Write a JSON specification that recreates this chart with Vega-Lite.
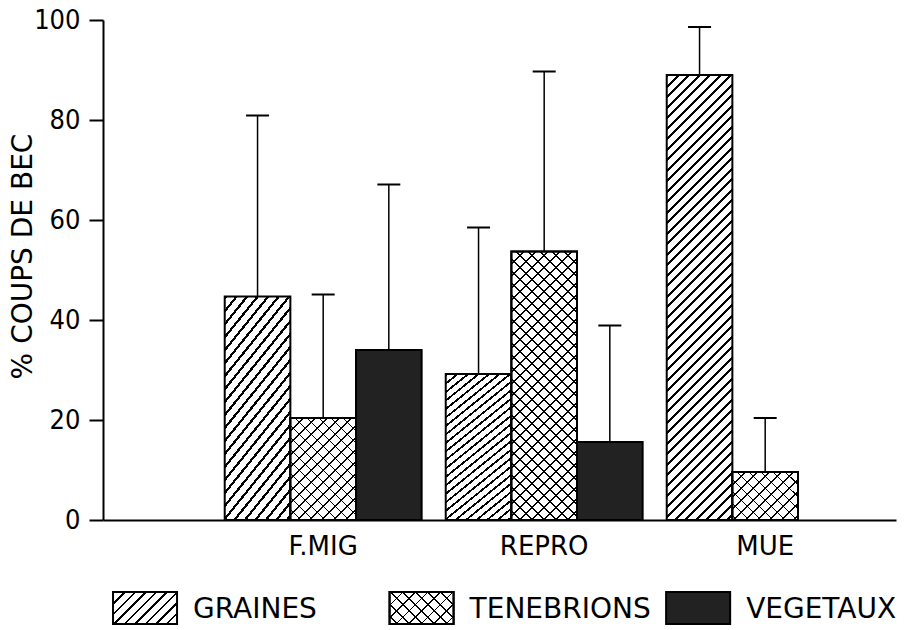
{
  "$schema": "https://vega.github.io/schema/vega-lite/v6.json",
  "width": 793,
  "height": 500,
  "autosize": {"type": "none"},
  "padding": {"left": 103, "top": 20, "right": 8, "bottom": 110},
  "background": "white",
  "config": {
    "font": "DejaVu Sans",
    "view": {"stroke": null},
    "axisX": {"domainColor": "black", "domainWidth": 2, "ticks": false, "labelFont": "DejaVu Sans", "labelFontSize": 26, "labelColor": "black", "labelPadding": 13, "labelAngle": 0, "grid": false},
    "axisY": {"titleFont": "DejaVu Sans", "titleFontSize": 28, "titleFontWeight": "normal", "titleColor": "black", "titleX": -66, "titleY": 236, "domainColor": "black", "domainWidth": 2, "tickColor": "black", "tickWidth": 2, "tickSize": 14, "labelFont": "'DejaVu Sans Condensed', 'Liberation Sans', sans-serif", "labelFontSize": 27, "labelColor": "black", "labelPadding": 9, "labelFlush": false, "labelOverlap": false, "grid": false}
  },
  "data": {
    "values": [
      {"phase": "F.MIG", "type": "GRAINES", "value": 44.7, "hi": 80.9},
      {"phase": "F.MIG", "type": "TENEBRIONS", "value": 20.4, "hi": 45.1},
      {"phase": "F.MIG", "type": "VEGETAUX", "value": 34.0, "hi": 67.1},
      {"phase": "REPRO", "type": "GRAINES", "value": 29.2, "hi": 58.5},
      {"phase": "REPRO", "type": "TENEBRIONS", "value": 53.7, "hi": 89.7},
      {"phase": "REPRO", "type": "VEGETAUX", "value": 15.6, "hi": 38.9},
      {"phase": "MUE", "type": "GRAINES", "value": 89.0, "hi": 98.6},
      {"phase": "MUE", "type": "TENEBRIONS", "value": 9.6, "hi": 20.4}
    ]
  },
  "resolve": {"scale": {"x": "independent"}},
  "layer": [
    {
      "encoding": {
        "x": {
          "field": "phase", "type": "nominal", "sort": ["F.MIG", "REPRO", "MUE"],
          "scale": {"paddingInner": 0.109, "paddingOuter": 0.3486, "align": 0.79},
          "axis": {"title": null}
        },
        "xOffset": {"field": "type", "type": "nominal", "scale": {"domain": ["GRAINES", "TENEBRIONS", "VEGETAUX"], "paddingInner": 0, "paddingOuter": 0}},
        "y": {
          "field": "value", "type": "quantitative", "title": "% COUPS DE BEC",
          "scale": {"domain": [0, 100], "nice": false},
          "axis": {"title": "% COUPS DE BEC", "values": [0, 20, 40, 60, 80, 100]}
        }
      },
      "layer": [
        {"mark": {"type": "rule", "stroke": "black", "strokeWidth": 1.5}, "encoding": {"y2": {"field": "hi"}}},
        {"mark": {"type": "tick", "color": "black", "size": 23, "thickness": 2, "opacity": 1}, "encoding": {"y": {"field": "hi", "type": "quantitative", "title": "% COUPS DE BEC"}}},
        {
          "transform": [{"filter": "datum.type === 'GRAINES' && datum.phase !== 'MUE'"}],
          "mark": {"type": "bar", "stroke": "black", "strokeWidth": 2,
            "fill": {"gradient": "linear", "x1": 0, "y1": 0, "x2": 0.4657, "y2": 1.283, "stops": [
              {"offset":0,"color":"#000"},{"offset":0.011,"color":"#000"},{"offset":0.011,"color":"#fff"},{"offset":0.04,"color":"#fff"},
              {"offset":0.04,"color":"#000"},{"offset":0.051,"color":"#000"},{"offset":0.051,"color":"#fff"},{"offset":0.08,"color":"#fff"},
              {"offset":0.08,"color":"#000"},{"offset":0.091,"color":"#000"},{"offset":0.091,"color":"#fff"},{"offset":0.12,"color":"#fff"},
              {"offset":0.12,"color":"#000"},{"offset":0.131,"color":"#000"},{"offset":0.131,"color":"#fff"},{"offset":0.16,"color":"#fff"},
              {"offset":0.16,"color":"#000"},{"offset":0.171,"color":"#000"},{"offset":0.171,"color":"#fff"},{"offset":0.2,"color":"#fff"},
              {"offset":0.2,"color":"#000"},{"offset":0.211,"color":"#000"},{"offset":0.211,"color":"#fff"},{"offset":0.24,"color":"#fff"},
              {"offset":0.24,"color":"#000"},{"offset":0.251,"color":"#000"},{"offset":0.251,"color":"#fff"},{"offset":0.28,"color":"#fff"},
              {"offset":0.28,"color":"#000"},{"offset":0.291,"color":"#000"},{"offset":0.291,"color":"#fff"},{"offset":0.32,"color":"#fff"},
              {"offset":0.32,"color":"#000"},{"offset":0.331,"color":"#000"},{"offset":0.331,"color":"#fff"},{"offset":0.36,"color":"#fff"},
              {"offset":0.36,"color":"#000"},{"offset":0.371,"color":"#000"},{"offset":0.371,"color":"#fff"},{"offset":0.4,"color":"#fff"},
              {"offset":0.4,"color":"#000"},{"offset":0.411,"color":"#000"},{"offset":0.411,"color":"#fff"},{"offset":0.44,"color":"#fff"},
              {"offset":0.44,"color":"#000"},{"offset":0.451,"color":"#000"},{"offset":0.451,"color":"#fff"},{"offset":0.48,"color":"#fff"},
              {"offset":0.48,"color":"#000"},{"offset":0.491,"color":"#000"},{"offset":0.491,"color":"#fff"},{"offset":0.52,"color":"#fff"},
              {"offset":0.52,"color":"#000"},{"offset":0.531,"color":"#000"},{"offset":0.531,"color":"#fff"},{"offset":0.56,"color":"#fff"},
              {"offset":0.56,"color":"#000"},{"offset":0.571,"color":"#000"},{"offset":0.571,"color":"#fff"},{"offset":0.6,"color":"#fff"},
              {"offset":0.6,"color":"#000"},{"offset":0.611,"color":"#000"},{"offset":0.611,"color":"#fff"},{"offset":0.64,"color":"#fff"},
              {"offset":0.64,"color":"#000"},{"offset":0.651,"color":"#000"},{"offset":0.651,"color":"#fff"},{"offset":0.68,"color":"#fff"},
              {"offset":0.68,"color":"#000"},{"offset":0.691,"color":"#000"},{"offset":0.691,"color":"#fff"},{"offset":0.72,"color":"#fff"},
              {"offset":0.72,"color":"#000"},{"offset":0.731,"color":"#000"},{"offset":0.731,"color":"#fff"},{"offset":0.76,"color":"#fff"},
              {"offset":0.76,"color":"#000"},{"offset":0.771,"color":"#000"},{"offset":0.771,"color":"#fff"},{"offset":0.8,"color":"#fff"},
              {"offset":0.8,"color":"#000"},{"offset":0.811,"color":"#000"},{"offset":0.811,"color":"#fff"},{"offset":0.84,"color":"#fff"},
              {"offset":0.84,"color":"#000"},{"offset":0.851,"color":"#000"},{"offset":0.851,"color":"#fff"},{"offset":0.88,"color":"#fff"},
              {"offset":0.88,"color":"#000"},{"offset":0.891,"color":"#000"},{"offset":0.891,"color":"#fff"},{"offset":0.92,"color":"#fff"},
              {"offset":0.92,"color":"#000"},{"offset":0.931,"color":"#000"},{"offset":0.931,"color":"#fff"},{"offset":0.96,"color":"#fff"},
              {"offset":0.96,"color":"#000"},{"offset":0.971,"color":"#000"},{"offset":0.971,"color":"#fff"},{"offset":1,"color":"#fff"}
            ]}
          },
          "encoding": {}
        },
        {
          "transform": [{"filter": "datum.type === 'GRAINES' && datum.phase === 'MUE'"}],
          "mark": {"type": "bar", "stroke": "black", "strokeWidth": 2,
            "fill": {"gradient": "linear", "x1": 0, "y1": 0, "x2": 0.1702, "y2": 1.1547, "stops": [
              {"offset":0,"color":"#000"},{"offset":0.0055,"color":"#000"},{"offset":0.0055,"color":"#fff"},{"offset":0.02,"color":"#fff"},
              {"offset":0.02,"color":"#000"},{"offset":0.0255,"color":"#000"},{"offset":0.0255,"color":"#fff"},{"offset":0.04,"color":"#fff"},
              {"offset":0.04,"color":"#000"},{"offset":0.0455,"color":"#000"},{"offset":0.0455,"color":"#fff"},{"offset":0.06,"color":"#fff"},
              {"offset":0.06,"color":"#000"},{"offset":0.0655,"color":"#000"},{"offset":0.0655,"color":"#fff"},{"offset":0.08,"color":"#fff"},
              {"offset":0.08,"color":"#000"},{"offset":0.0855,"color":"#000"},{"offset":0.0855,"color":"#fff"},{"offset":0.1,"color":"#fff"},
              {"offset":0.1,"color":"#000"},{"offset":0.1055,"color":"#000"},{"offset":0.1055,"color":"#fff"},{"offset":0.12,"color":"#fff"},
              {"offset":0.12,"color":"#000"},{"offset":0.1255,"color":"#000"},{"offset":0.1255,"color":"#fff"},{"offset":0.14,"color":"#fff"},
              {"offset":0.14,"color":"#000"},{"offset":0.1455,"color":"#000"},{"offset":0.1455,"color":"#fff"},{"offset":0.16,"color":"#fff"},
              {"offset":0.16,"color":"#000"},{"offset":0.1655,"color":"#000"},{"offset":0.1655,"color":"#fff"},{"offset":0.18,"color":"#fff"},
              {"offset":0.18,"color":"#000"},{"offset":0.1855,"color":"#000"},{"offset":0.1855,"color":"#fff"},{"offset":0.2,"color":"#fff"},
              {"offset":0.2,"color":"#000"},{"offset":0.2055,"color":"#000"},{"offset":0.2055,"color":"#fff"},{"offset":0.22,"color":"#fff"},
              {"offset":0.22,"color":"#000"},{"offset":0.2255,"color":"#000"},{"offset":0.2255,"color":"#fff"},{"offset":0.24,"color":"#fff"},
              {"offset":0.24,"color":"#000"},{"offset":0.2455,"color":"#000"},{"offset":0.2455,"color":"#fff"},{"offset":0.26,"color":"#fff"},
              {"offset":0.26,"color":"#000"},{"offset":0.2655,"color":"#000"},{"offset":0.2655,"color":"#fff"},{"offset":0.28,"color":"#fff"},
              {"offset":0.28,"color":"#000"},{"offset":0.2855,"color":"#000"},{"offset":0.2855,"color":"#fff"},{"offset":0.3,"color":"#fff"},
              {"offset":0.3,"color":"#000"},{"offset":0.3055,"color":"#000"},{"offset":0.3055,"color":"#fff"},{"offset":0.32,"color":"#fff"},
              {"offset":0.32,"color":"#000"},{"offset":0.3255,"color":"#000"},{"offset":0.3255,"color":"#fff"},{"offset":0.34,"color":"#fff"},
              {"offset":0.34,"color":"#000"},{"offset":0.3455,"color":"#000"},{"offset":0.3455,"color":"#fff"},{"offset":0.36,"color":"#fff"},
              {"offset":0.36,"color":"#000"},{"offset":0.3655,"color":"#000"},{"offset":0.3655,"color":"#fff"},{"offset":0.38,"color":"#fff"},
              {"offset":0.38,"color":"#000"},{"offset":0.3855,"color":"#000"},{"offset":0.3855,"color":"#fff"},{"offset":0.4,"color":"#fff"},
              {"offset":0.4,"color":"#000"},{"offset":0.4055,"color":"#000"},{"offset":0.4055,"color":"#fff"},{"offset":0.42,"color":"#fff"},
              {"offset":0.42,"color":"#000"},{"offset":0.4255,"color":"#000"},{"offset":0.4255,"color":"#fff"},{"offset":0.44,"color":"#fff"},
              {"offset":0.44,"color":"#000"},{"offset":0.4455,"color":"#000"},{"offset":0.4455,"color":"#fff"},{"offset":0.46,"color":"#fff"},
              {"offset":0.46,"color":"#000"},{"offset":0.4655,"color":"#000"},{"offset":0.4655,"color":"#fff"},{"offset":0.48,"color":"#fff"},
              {"offset":0.48,"color":"#000"},{"offset":0.4855,"color":"#000"},{"offset":0.4855,"color":"#fff"},{"offset":0.5,"color":"#fff"},
              {"offset":0.5,"color":"#000"},{"offset":0.5055,"color":"#000"},{"offset":0.5055,"color":"#fff"},{"offset":0.52,"color":"#fff"},
              {"offset":0.52,"color":"#000"},{"offset":0.5255,"color":"#000"},{"offset":0.5255,"color":"#fff"},{"offset":0.54,"color":"#fff"},
              {"offset":0.54,"color":"#000"},{"offset":0.5455,"color":"#000"},{"offset":0.5455,"color":"#fff"},{"offset":0.56,"color":"#fff"},
              {"offset":0.56,"color":"#000"},{"offset":0.5655,"color":"#000"},{"offset":0.5655,"color":"#fff"},{"offset":0.58,"color":"#fff"},
              {"offset":0.58,"color":"#000"},{"offset":0.5855,"color":"#000"},{"offset":0.5855,"color":"#fff"},{"offset":0.6,"color":"#fff"},
              {"offset":0.6,"color":"#000"},{"offset":0.6055,"color":"#000"},{"offset":0.6055,"color":"#fff"},{"offset":0.62,"color":"#fff"},
              {"offset":0.62,"color":"#000"},{"offset":0.6255,"color":"#000"},{"offset":0.6255,"color":"#fff"},{"offset":0.64,"color":"#fff"},
              {"offset":0.64,"color":"#000"},{"offset":0.6455,"color":"#000"},{"offset":0.6455,"color":"#fff"},{"offset":0.66,"color":"#fff"},
              {"offset":0.66,"color":"#000"},{"offset":0.6655,"color":"#000"},{"offset":0.6655,"color":"#fff"},{"offset":0.68,"color":"#fff"},
              {"offset":0.68,"color":"#000"},{"offset":0.6855,"color":"#000"},{"offset":0.6855,"color":"#fff"},{"offset":0.7,"color":"#fff"},
              {"offset":0.7,"color":"#000"},{"offset":0.7055,"color":"#000"},{"offset":0.7055,"color":"#fff"},{"offset":0.72,"color":"#fff"},
              {"offset":0.72,"color":"#000"},{"offset":0.7255,"color":"#000"},{"offset":0.7255,"color":"#fff"},{"offset":0.74,"color":"#fff"},
              {"offset":0.74,"color":"#000"},{"offset":0.7455,"color":"#000"},{"offset":0.7455,"color":"#fff"},{"offset":0.76,"color":"#fff"},
              {"offset":0.76,"color":"#000"},{"offset":0.7655,"color":"#000"},{"offset":0.7655,"color":"#fff"},{"offset":0.78,"color":"#fff"},
              {"offset":0.78,"color":"#000"},{"offset":0.7855,"color":"#000"},{"offset":0.7855,"color":"#fff"},{"offset":0.8,"color":"#fff"},
              {"offset":0.8,"color":"#000"},{"offset":0.8055,"color":"#000"},{"offset":0.8055,"color":"#fff"},{"offset":0.82,"color":"#fff"},
              {"offset":0.82,"color":"#000"},{"offset":0.8255,"color":"#000"},{"offset":0.8255,"color":"#fff"},{"offset":0.84,"color":"#fff"},
              {"offset":0.84,"color":"#000"},{"offset":0.8455,"color":"#000"},{"offset":0.8455,"color":"#fff"},{"offset":0.86,"color":"#fff"},
              {"offset":0.86,"color":"#000"},{"offset":0.8655,"color":"#000"},{"offset":0.8655,"color":"#fff"},{"offset":0.88,"color":"#fff"},
              {"offset":0.88,"color":"#000"},{"offset":0.8855,"color":"#000"},{"offset":0.8855,"color":"#fff"},{"offset":0.9,"color":"#fff"},
              {"offset":0.9,"color":"#000"},{"offset":0.9055,"color":"#000"},{"offset":0.9055,"color":"#fff"},{"offset":0.92,"color":"#fff"},
              {"offset":0.92,"color":"#000"},{"offset":0.9255,"color":"#000"},{"offset":0.9255,"color":"#fff"},{"offset":0.94,"color":"#fff"},
              {"offset":0.94,"color":"#000"},{"offset":0.9455,"color":"#000"},{"offset":0.9455,"color":"#fff"},{"offset":0.96,"color":"#fff"},
              {"offset":0.96,"color":"#000"},{"offset":0.9655,"color":"#000"},{"offset":0.9655,"color":"#fff"},{"offset":1,"color":"#fff"}
            ]}
          },
          "encoding": {}
        },
        {
          "transform": [{"filter": "datum.type === 'TENEBRIONS' && datum.phase === 'F.MIG'"}],
          "mark": {"type": "bar", "stroke": "black", "strokeWidth": 2,
            "fill": {"gradient": "linear", "x1": 0, "y1": 0, "x2": 0.8564, "y2": 1.3316, "stops": [
              {"offset":0,"color":"#000"},{"offset":0.0094,"color":"#000"},{"offset":0.0094,"color":"#fff"},{"offset":0.0625,"color":"#fff"},
              {"offset":0.0625,"color":"#000"},{"offset":0.0719,"color":"#000"},{"offset":0.0719,"color":"#fff"},{"offset":0.125,"color":"#fff"},
              {"offset":0.125,"color":"#000"},{"offset":0.1344,"color":"#000"},{"offset":0.1344,"color":"#fff"},{"offset":0.1875,"color":"#fff"},
              {"offset":0.1875,"color":"#000"},{"offset":0.1969,"color":"#000"},{"offset":0.1969,"color":"#fff"},{"offset":0.25,"color":"#fff"},
              {"offset":0.25,"color":"#000"},{"offset":0.2594,"color":"#000"},{"offset":0.2594,"color":"#fff"},{"offset":0.3125,"color":"#fff"},
              {"offset":0.3125,"color":"#000"},{"offset":0.3219,"color":"#000"},{"offset":0.3219,"color":"#fff"},{"offset":0.375,"color":"#fff"},
              {"offset":0.375,"color":"#000"},{"offset":0.3844,"color":"#000"},{"offset":0.3844,"color":"#fff"},{"offset":0.4375,"color":"#fff"},
              {"offset":0.4375,"color":"#000"},{"offset":0.4469,"color":"#000"},{"offset":0.4469,"color":"#fff"},{"offset":0.5,"color":"#fff"},
              {"offset":0.5,"color":"#000"},{"offset":0.5094,"color":"#000"},{"offset":0.5094,"color":"#fff"},{"offset":0.5625,"color":"#fff"},
              {"offset":0.5625,"color":"#000"},{"offset":0.5719,"color":"#000"},{"offset":0.5719,"color":"#fff"},{"offset":0.625,"color":"#fff"},
              {"offset":0.625,"color":"#000"},{"offset":0.6344,"color":"#000"},{"offset":0.6344,"color":"#fff"},{"offset":0.6875,"color":"#fff"},
              {"offset":0.6875,"color":"#000"},{"offset":0.6969,"color":"#000"},{"offset":0.6969,"color":"#fff"},{"offset":0.75,"color":"#fff"},
              {"offset":0.75,"color":"#000"},{"offset":0.7594,"color":"#000"},{"offset":0.7594,"color":"#fff"},{"offset":0.8125,"color":"#fff"},
              {"offset":0.8125,"color":"#000"},{"offset":0.8219,"color":"#000"},{"offset":0.8219,"color":"#fff"},{"offset":1,"color":"#fff"}
            ]}
          },
          "encoding": {}
        },
        {
          "transform": [{"filter": "datum.type === 'TENEBRIONS' && datum.phase === 'F.MIG'"}],
          "mark": {"type": "bar", "stroke": "black", "strokeWidth": 2,
            "fill": {"gradient": "linear", "x1": 1, "y1": 0, "x2": 0.1436, "y2": 1.3316, "stops": [
              {"offset":0,"color":"#000"},{"offset":0.0094,"color":"#000"},{"offset":0.0094,"color":"rgba(0,0,0,0)"},{"offset":0.0625,"color":"rgba(0,0,0,0)"},
              {"offset":0.0625,"color":"#000"},{"offset":0.0719,"color":"#000"},{"offset":0.0719,"color":"rgba(0,0,0,0)"},{"offset":0.125,"color":"rgba(0,0,0,0)"},
              {"offset":0.125,"color":"#000"},{"offset":0.1344,"color":"#000"},{"offset":0.1344,"color":"rgba(0,0,0,0)"},{"offset":0.1875,"color":"rgba(0,0,0,0)"},
              {"offset":0.1875,"color":"#000"},{"offset":0.1969,"color":"#000"},{"offset":0.1969,"color":"rgba(0,0,0,0)"},{"offset":0.25,"color":"rgba(0,0,0,0)"},
              {"offset":0.25,"color":"#000"},{"offset":0.2594,"color":"#000"},{"offset":0.2594,"color":"rgba(0,0,0,0)"},{"offset":0.3125,"color":"rgba(0,0,0,0)"},
              {"offset":0.3125,"color":"#000"},{"offset":0.3219,"color":"#000"},{"offset":0.3219,"color":"rgba(0,0,0,0)"},{"offset":0.375,"color":"rgba(0,0,0,0)"},
              {"offset":0.375,"color":"#000"},{"offset":0.3844,"color":"#000"},{"offset":0.3844,"color":"rgba(0,0,0,0)"},{"offset":0.4375,"color":"rgba(0,0,0,0)"},
              {"offset":0.4375,"color":"#000"},{"offset":0.4469,"color":"#000"},{"offset":0.4469,"color":"rgba(0,0,0,0)"},{"offset":0.5,"color":"rgba(0,0,0,0)"},
              {"offset":0.5,"color":"#000"},{"offset":0.5094,"color":"#000"},{"offset":0.5094,"color":"rgba(0,0,0,0)"},{"offset":0.5625,"color":"rgba(0,0,0,0)"},
              {"offset":0.5625,"color":"#000"},{"offset":0.5719,"color":"#000"},{"offset":0.5719,"color":"rgba(0,0,0,0)"},{"offset":0.625,"color":"rgba(0,0,0,0)"},
              {"offset":0.625,"color":"#000"},{"offset":0.6344,"color":"#000"},{"offset":0.6344,"color":"rgba(0,0,0,0)"},{"offset":0.6875,"color":"rgba(0,0,0,0)"},
              {"offset":0.6875,"color":"#000"},{"offset":0.6969,"color":"#000"},{"offset":0.6969,"color":"rgba(0,0,0,0)"},{"offset":0.75,"color":"rgba(0,0,0,0)"},
              {"offset":0.75,"color":"#000"},{"offset":0.7594,"color":"#000"},{"offset":0.7594,"color":"rgba(0,0,0,0)"},{"offset":0.8125,"color":"rgba(0,0,0,0)"},
              {"offset":0.8125,"color":"#000"},{"offset":0.8219,"color":"#000"},{"offset":0.8219,"color":"rgba(0,0,0,0)"},{"offset":1,"color":"rgba(0,0,0,0)"}
            ]}
          },
          "encoding": {}
        },
        {
          "transform": [{"filter": "datum.type === 'TENEBRIONS' && datum.phase === 'REPRO'"}],
          "mark": {"type": "bar", "stroke": "black", "strokeWidth": 2,
            "fill": {"gradient": "linear", "x1": 0, "y1": 0, "x2": 0.3297, "y2": 1.3496, "stops": [
              {"offset":0,"color":"#000"},{"offset":0.0047,"color":"#000"},{"offset":0.0047,"color":"#fff"},{"offset":0.03125,"color":"#fff"},
              {"offset":0.03125,"color":"#000"},{"offset":0.036,"color":"#000"},{"offset":0.036,"color":"#fff"},{"offset":0.0625,"color":"#fff"},
              {"offset":0.0625,"color":"#000"},{"offset":0.0672,"color":"#000"},{"offset":0.0672,"color":"#fff"},{"offset":0.09375,"color":"#fff"},
              {"offset":0.09375,"color":"#000"},{"offset":0.0985,"color":"#000"},{"offset":0.0985,"color":"#fff"},{"offset":0.125,"color":"#fff"},
              {"offset":0.125,"color":"#000"},{"offset":0.1297,"color":"#000"},{"offset":0.1297,"color":"#fff"},{"offset":0.15625,"color":"#fff"},
              {"offset":0.15625,"color":"#000"},{"offset":0.161,"color":"#000"},{"offset":0.161,"color":"#fff"},{"offset":0.1875,"color":"#fff"},
              {"offset":0.1875,"color":"#000"},{"offset":0.1922,"color":"#000"},{"offset":0.1922,"color":"#fff"},{"offset":0.21875,"color":"#fff"},
              {"offset":0.21875,"color":"#000"},{"offset":0.2235,"color":"#000"},{"offset":0.2235,"color":"#fff"},{"offset":0.25,"color":"#fff"},
              {"offset":0.25,"color":"#000"},{"offset":0.2547,"color":"#000"},{"offset":0.2547,"color":"#fff"},{"offset":0.28125,"color":"#fff"},
              {"offset":0.28125,"color":"#000"},{"offset":0.286,"color":"#000"},{"offset":0.286,"color":"#fff"},{"offset":0.3125,"color":"#fff"},
              {"offset":0.3125,"color":"#000"},{"offset":0.3172,"color":"#000"},{"offset":0.3172,"color":"#fff"},{"offset":0.34375,"color":"#fff"},
              {"offset":0.34375,"color":"#000"},{"offset":0.3485,"color":"#000"},{"offset":0.3485,"color":"#fff"},{"offset":0.375,"color":"#fff"},
              {"offset":0.375,"color":"#000"},{"offset":0.3797,"color":"#000"},{"offset":0.3797,"color":"#fff"},{"offset":0.40625,"color":"#fff"},
              {"offset":0.40625,"color":"#000"},{"offset":0.411,"color":"#000"},{"offset":0.411,"color":"#fff"},{"offset":0.4375,"color":"#fff"},
              {"offset":0.4375,"color":"#000"},{"offset":0.4422,"color":"#000"},{"offset":0.4422,"color":"#fff"},{"offset":0.46875,"color":"#fff"},
              {"offset":0.46875,"color":"#000"},{"offset":0.4735,"color":"#000"},{"offset":0.4735,"color":"#fff"},{"offset":0.5,"color":"#fff"},
              {"offset":0.5,"color":"#000"},{"offset":0.5047,"color":"#000"},{"offset":0.5047,"color":"#fff"},{"offset":0.53125,"color":"#fff"},
              {"offset":0.53125,"color":"#000"},{"offset":0.536,"color":"#000"},{"offset":0.536,"color":"#fff"},{"offset":0.5625,"color":"#fff"},
              {"offset":0.5625,"color":"#000"},{"offset":0.5672,"color":"#000"},{"offset":0.5672,"color":"#fff"},{"offset":0.59375,"color":"#fff"},
              {"offset":0.59375,"color":"#000"},{"offset":0.5985,"color":"#000"},{"offset":0.5985,"color":"#fff"},{"offset":0.625,"color":"#fff"},
              {"offset":0.625,"color":"#000"},{"offset":0.6297,"color":"#000"},{"offset":0.6297,"color":"#fff"},{"offset":0.65625,"color":"#fff"},
              {"offset":0.65625,"color":"#000"},{"offset":0.661,"color":"#000"},{"offset":0.661,"color":"#fff"},{"offset":0.6875,"color":"#fff"},
              {"offset":0.6875,"color":"#000"},{"offset":0.6922,"color":"#000"},{"offset":0.6922,"color":"#fff"},{"offset":0.71875,"color":"#fff"},
              {"offset":0.71875,"color":"#000"},{"offset":0.7235,"color":"#000"},{"offset":0.7235,"color":"#fff"},{"offset":0.75,"color":"#fff"},
              {"offset":0.75,"color":"#000"},{"offset":0.7547,"color":"#000"},{"offset":0.7547,"color":"#fff"},{"offset":0.78125,"color":"#fff"},
              {"offset":0.78125,"color":"#000"},{"offset":0.786,"color":"#000"},{"offset":0.786,"color":"#fff"},{"offset":0.8125,"color":"#fff"},
              {"offset":0.8125,"color":"#000"},{"offset":0.8172,"color":"#000"},{"offset":0.8172,"color":"#fff"},{"offset":0.84375,"color":"#fff"},
              {"offset":0.84375,"color":"#000"},{"offset":0.8485,"color":"#000"},{"offset":0.8485,"color":"#fff"},{"offset":1,"color":"#fff"}
            ]}
          },
          "encoding": {}
        },
        {
          "transform": [{"filter": "datum.type === 'TENEBRIONS' && datum.phase === 'REPRO'"}],
          "mark": {"type": "bar", "stroke": "black", "strokeWidth": 2,
            "fill": {"gradient": "linear", "x1": 1, "y1": 0, "x2": 0.6703, "y2": 1.3496, "stops": [
              {"offset":0,"color":"#000"},{"offset":0.0047,"color":"#000"},{"offset":0.0047,"color":"rgba(0,0,0,0)"},{"offset":0.03125,"color":"rgba(0,0,0,0)"},
              {"offset":0.03125,"color":"#000"},{"offset":0.036,"color":"#000"},{"offset":0.036,"color":"rgba(0,0,0,0)"},{"offset":0.0625,"color":"rgba(0,0,0,0)"},
              {"offset":0.0625,"color":"#000"},{"offset":0.0672,"color":"#000"},{"offset":0.0672,"color":"rgba(0,0,0,0)"},{"offset":0.09375,"color":"rgba(0,0,0,0)"},
              {"offset":0.09375,"color":"#000"},{"offset":0.0985,"color":"#000"},{"offset":0.0985,"color":"rgba(0,0,0,0)"},{"offset":0.125,"color":"rgba(0,0,0,0)"},
              {"offset":0.125,"color":"#000"},{"offset":0.1297,"color":"#000"},{"offset":0.1297,"color":"rgba(0,0,0,0)"},{"offset":0.15625,"color":"rgba(0,0,0,0)"},
              {"offset":0.15625,"color":"#000"},{"offset":0.161,"color":"#000"},{"offset":0.161,"color":"rgba(0,0,0,0)"},{"offset":0.1875,"color":"rgba(0,0,0,0)"},
              {"offset":0.1875,"color":"#000"},{"offset":0.1922,"color":"#000"},{"offset":0.1922,"color":"rgba(0,0,0,0)"},{"offset":0.21875,"color":"rgba(0,0,0,0)"},
              {"offset":0.21875,"color":"#000"},{"offset":0.2235,"color":"#000"},{"offset":0.2235,"color":"rgba(0,0,0,0)"},{"offset":0.25,"color":"rgba(0,0,0,0)"},
              {"offset":0.25,"color":"#000"},{"offset":0.2547,"color":"#000"},{"offset":0.2547,"color":"rgba(0,0,0,0)"},{"offset":0.28125,"color":"rgba(0,0,0,0)"},
              {"offset":0.28125,"color":"#000"},{"offset":0.286,"color":"#000"},{"offset":0.286,"color":"rgba(0,0,0,0)"},{"offset":0.3125,"color":"rgba(0,0,0,0)"},
              {"offset":0.3125,"color":"#000"},{"offset":0.3172,"color":"#000"},{"offset":0.3172,"color":"rgba(0,0,0,0)"},{"offset":0.34375,"color":"rgba(0,0,0,0)"},
              {"offset":0.34375,"color":"#000"},{"offset":0.3485,"color":"#000"},{"offset":0.3485,"color":"rgba(0,0,0,0)"},{"offset":0.375,"color":"rgba(0,0,0,0)"},
              {"offset":0.375,"color":"#000"},{"offset":0.3797,"color":"#000"},{"offset":0.3797,"color":"rgba(0,0,0,0)"},{"offset":0.40625,"color":"rgba(0,0,0,0)"},
              {"offset":0.40625,"color":"#000"},{"offset":0.411,"color":"#000"},{"offset":0.411,"color":"rgba(0,0,0,0)"},{"offset":0.4375,"color":"rgba(0,0,0,0)"},
              {"offset":0.4375,"color":"#000"},{"offset":0.4422,"color":"#000"},{"offset":0.4422,"color":"rgba(0,0,0,0)"},{"offset":0.46875,"color":"rgba(0,0,0,0)"},
              {"offset":0.46875,"color":"#000"},{"offset":0.4735,"color":"#000"},{"offset":0.4735,"color":"rgba(0,0,0,0)"},{"offset":0.5,"color":"rgba(0,0,0,0)"},
              {"offset":0.5,"color":"#000"},{"offset":0.5047,"color":"#000"},{"offset":0.5047,"color":"rgba(0,0,0,0)"},{"offset":0.53125,"color":"rgba(0,0,0,0)"},
              {"offset":0.53125,"color":"#000"},{"offset":0.536,"color":"#000"},{"offset":0.536,"color":"rgba(0,0,0,0)"},{"offset":0.5625,"color":"rgba(0,0,0,0)"},
              {"offset":0.5625,"color":"#000"},{"offset":0.5672,"color":"#000"},{"offset":0.5672,"color":"rgba(0,0,0,0)"},{"offset":0.59375,"color":"rgba(0,0,0,0)"},
              {"offset":0.59375,"color":"#000"},{"offset":0.5985,"color":"#000"},{"offset":0.5985,"color":"rgba(0,0,0,0)"},{"offset":0.625,"color":"rgba(0,0,0,0)"},
              {"offset":0.625,"color":"#000"},{"offset":0.6297,"color":"#000"},{"offset":0.6297,"color":"rgba(0,0,0,0)"},{"offset":0.65625,"color":"rgba(0,0,0,0)"},
              {"offset":0.65625,"color":"#000"},{"offset":0.661,"color":"#000"},{"offset":0.661,"color":"rgba(0,0,0,0)"},{"offset":0.6875,"color":"rgba(0,0,0,0)"},
              {"offset":0.6875,"color":"#000"},{"offset":0.6922,"color":"#000"},{"offset":0.6922,"color":"rgba(0,0,0,0)"},{"offset":0.71875,"color":"rgba(0,0,0,0)"},
              {"offset":0.71875,"color":"#000"},{"offset":0.7235,"color":"#000"},{"offset":0.7235,"color":"rgba(0,0,0,0)"},{"offset":0.75,"color":"rgba(0,0,0,0)"},
              {"offset":0.75,"color":"#000"},{"offset":0.7547,"color":"#000"},{"offset":0.7547,"color":"rgba(0,0,0,0)"},{"offset":0.78125,"color":"rgba(0,0,0,0)"},
              {"offset":0.78125,"color":"#000"},{"offset":0.786,"color":"#000"},{"offset":0.786,"color":"rgba(0,0,0,0)"},{"offset":0.8125,"color":"rgba(0,0,0,0)"},
              {"offset":0.8125,"color":"#000"},{"offset":0.8172,"color":"#000"},{"offset":0.8172,"color":"rgba(0,0,0,0)"},{"offset":0.84375,"color":"rgba(0,0,0,0)"},
              {"offset":0.84375,"color":"#000"},{"offset":0.8485,"color":"#000"},{"offset":0.8485,"color":"rgba(0,0,0,0)"},{"offset":1,"color":"rgba(0,0,0,0)"}
            ]}
          },
          "encoding": {}
        },
        {
          "transform": [{"filter": "datum.type === 'TENEBRIONS' && datum.phase === 'MUE'"}],
          "mark": {"type": "bar", "stroke": "black", "strokeWidth": 2,
            "fill": {"gradient": "linear", "x1": 0, "y1": 0, "x2": 1.1915, "y2": 0.8718, "stops": [
              {"offset":0,"color":"#000"},{"offset":0.015,"color":"#000"},{"offset":0.015,"color":"#fff"},{"offset":0.1,"color":"#fff"},
              {"offset":0.1,"color":"#000"},{"offset":0.115,"color":"#000"},{"offset":0.115,"color":"#fff"},{"offset":0.2,"color":"#fff"},
              {"offset":0.2,"color":"#000"},{"offset":0.215,"color":"#000"},{"offset":0.215,"color":"#fff"},{"offset":0.3,"color":"#fff"},
              {"offset":0.3,"color":"#000"},{"offset":0.315,"color":"#000"},{"offset":0.315,"color":"#fff"},{"offset":0.4,"color":"#fff"},
              {"offset":0.4,"color":"#000"},{"offset":0.415,"color":"#000"},{"offset":0.415,"color":"#fff"},{"offset":0.5,"color":"#fff"},
              {"offset":0.5,"color":"#000"},{"offset":0.515,"color":"#000"},{"offset":0.515,"color":"#fff"},{"offset":0.6,"color":"#fff"},
              {"offset":0.6,"color":"#000"},{"offset":0.615,"color":"#000"},{"offset":0.615,"color":"#fff"},{"offset":0.7,"color":"#fff"},
              {"offset":0.7,"color":"#000"},{"offset":0.715,"color":"#000"},{"offset":0.715,"color":"#fff"},{"offset":0.8,"color":"#fff"},
              {"offset":0.8,"color":"#000"},{"offset":0.815,"color":"#000"},{"offset":0.815,"color":"#fff"},{"offset":0.9,"color":"#fff"},
              {"offset":0.9,"color":"#000"},{"offset":0.915,"color":"#000"},{"offset":0.915,"color":"#fff"},{"offset":1,"color":"#fff"}
            ]}
          },
          "encoding": {}
        },
        {
          "transform": [{"filter": "datum.type === 'TENEBRIONS' && datum.phase === 'MUE'"}],
          "mark": {"type": "bar", "stroke": "black", "strokeWidth": 2,
            "fill": {"gradient": "linear", "x1": 1, "y1": 0, "x2": -0.1915, "y2": 0.8718, "stops": [
              {"offset":0,"color":"#000"},{"offset":0.015,"color":"#000"},{"offset":0.015,"color":"rgba(0,0,0,0)"},{"offset":0.1,"color":"rgba(0,0,0,0)"},
              {"offset":0.1,"color":"#000"},{"offset":0.115,"color":"#000"},{"offset":0.115,"color":"rgba(0,0,0,0)"},{"offset":0.2,"color":"rgba(0,0,0,0)"},
              {"offset":0.2,"color":"#000"},{"offset":0.215,"color":"#000"},{"offset":0.215,"color":"rgba(0,0,0,0)"},{"offset":0.3,"color":"rgba(0,0,0,0)"},
              {"offset":0.3,"color":"#000"},{"offset":0.315,"color":"#000"},{"offset":0.315,"color":"rgba(0,0,0,0)"},{"offset":0.4,"color":"rgba(0,0,0,0)"},
              {"offset":0.4,"color":"#000"},{"offset":0.415,"color":"#000"},{"offset":0.415,"color":"rgba(0,0,0,0)"},{"offset":0.5,"color":"rgba(0,0,0,0)"},
              {"offset":0.5,"color":"#000"},{"offset":0.515,"color":"#000"},{"offset":0.515,"color":"rgba(0,0,0,0)"},{"offset":0.6,"color":"rgba(0,0,0,0)"},
              {"offset":0.6,"color":"#000"},{"offset":0.615,"color":"#000"},{"offset":0.615,"color":"rgba(0,0,0,0)"},{"offset":0.7,"color":"rgba(0,0,0,0)"},
              {"offset":0.7,"color":"#000"},{"offset":0.715,"color":"#000"},{"offset":0.715,"color":"rgba(0,0,0,0)"},{"offset":0.8,"color":"rgba(0,0,0,0)"},
              {"offset":0.8,"color":"#000"},{"offset":0.815,"color":"#000"},{"offset":0.815,"color":"rgba(0,0,0,0)"},{"offset":0.9,"color":"rgba(0,0,0,0)"},
              {"offset":0.9,"color":"#000"},{"offset":0.915,"color":"#000"},{"offset":0.915,"color":"rgba(0,0,0,0)"},{"offset":1,"color":"rgba(0,0,0,0)"}
            ]}
          },
          "encoding": {}
        },
        {
          "transform": [{"filter": "datum.type === 'VEGETAUX'"}],
          "mark": {"type": "bar", "stroke": "black", "strokeWidth": 2, "fill": "#222222"},
          "encoding": {}
        }
      ]
    },
    {
      "transform": [{"aggregate": [{"op": "count", "as": "n"}], "groupby": ["type"]}],
      "encoding": {
        "x": {
          "field": "type", "type": "nominal", "sort": ["GRAINES", "TENEBRIONS", "VEGETAUX"],
          "scale": {"paddingInner": 0.7685, "paddingOuter": 0.318, "align": 0.057},
          "axis": null
        },
        "y": {"datum": -14.4, "type": "quantitative", "title": "% COUPS DE BEC", "scale": {"domain": [0, 100], "nice": false}},
        "y2": {"datum": -20.8}
      },
      "layer": [
        {
          "transform": [{"filter": "datum.type === 'GRAINES'"}],
          "mark": {"type": "bar", "stroke": "black", "strokeWidth": 2,
            "fill": {"gradient": "linear", "x1": 0, "y1": 0, "x2": 1.3125, "y2": 0.6563, "stops": [
              {"offset":0,"color":"#000"},{"offset":0.027,"color":"#000"},{"offset":0.027,"color":"#fff"},{"offset":0.1,"color":"#fff"},
              {"offset":0.1,"color":"#000"},{"offset":0.127,"color":"#000"},{"offset":0.127,"color":"#fff"},{"offset":0.2,"color":"#fff"},
              {"offset":0.2,"color":"#000"},{"offset":0.227,"color":"#000"},{"offset":0.227,"color":"#fff"},{"offset":0.3,"color":"#fff"},
              {"offset":0.3,"color":"#000"},{"offset":0.327,"color":"#000"},{"offset":0.327,"color":"#fff"},{"offset":0.4,"color":"#fff"},
              {"offset":0.4,"color":"#000"},{"offset":0.427,"color":"#000"},{"offset":0.427,"color":"#fff"},{"offset":0.5,"color":"#fff"},
              {"offset":0.5,"color":"#000"},{"offset":0.527,"color":"#000"},{"offset":0.527,"color":"#fff"},{"offset":0.6,"color":"#fff"},
              {"offset":0.6,"color":"#000"},{"offset":0.627,"color":"#000"},{"offset":0.627,"color":"#fff"},{"offset":0.7,"color":"#fff"},
              {"offset":0.7,"color":"#000"},{"offset":0.727,"color":"#000"},{"offset":0.727,"color":"#fff"},{"offset":0.8,"color":"#fff"},
              {"offset":0.8,"color":"#000"},{"offset":0.827,"color":"#000"},{"offset":0.827,"color":"#fff"},{"offset":0.9,"color":"#fff"},
              {"offset":0.9,"color":"#000"},{"offset":0.927,"color":"#000"},{"offset":0.927,"color":"#fff"},{"offset":1,"color":"#fff"}
            ]}
          }
        },
        {
          "transform": [{"filter": "datum.type === 'TENEBRIONS'"}],
          "mark": {"type": "bar", "stroke": "black", "strokeWidth": 2,
            "fill": {"gradient": "linear", "x1": 0, "y1": 0, "x2": 1.25, "y2": 0.625, "stops": [
              {"offset":0,"color":"#000"},{"offset":0.019,"color":"#000"},{"offset":0.019,"color":"#fff"},{"offset":0.125,"color":"#fff"},
              {"offset":0.125,"color":"#000"},{"offset":0.144,"color":"#000"},{"offset":0.144,"color":"#fff"},{"offset":0.25,"color":"#fff"},
              {"offset":0.25,"color":"#000"},{"offset":0.269,"color":"#000"},{"offset":0.269,"color":"#fff"},{"offset":0.375,"color":"#fff"},
              {"offset":0.375,"color":"#000"},{"offset":0.394,"color":"#000"},{"offset":0.394,"color":"#fff"},{"offset":0.5,"color":"#fff"},
              {"offset":0.5,"color":"#000"},{"offset":0.519,"color":"#000"},{"offset":0.519,"color":"#fff"},{"offset":0.625,"color":"#fff"},
              {"offset":0.625,"color":"#000"},{"offset":0.644,"color":"#000"},{"offset":0.644,"color":"#fff"},{"offset":0.75,"color":"#fff"},
              {"offset":0.75,"color":"#000"},{"offset":0.769,"color":"#000"},{"offset":0.769,"color":"#fff"},{"offset":0.875,"color":"#fff"},
              {"offset":0.875,"color":"#000"},{"offset":0.894,"color":"#000"},{"offset":0.894,"color":"#fff"},{"offset":1,"color":"#fff"}
            ]}
          }
        },
        {
          "transform": [{"filter": "datum.type === 'TENEBRIONS'"}],
          "mark": {"type": "bar", "stroke": "black", "strokeWidth": 2,
            "fill": {"gradient": "linear", "x1": 1, "y1": 0, "x2": -0.25, "y2": 0.625, "stops": [
              {"offset":0,"color":"#000"},{"offset":0.019,"color":"#000"},{"offset":0.019,"color":"rgba(0,0,0,0)"},{"offset":0.125,"color":"rgba(0,0,0,0)"},
              {"offset":0.125,"color":"#000"},{"offset":0.144,"color":"#000"},{"offset":0.144,"color":"rgba(0,0,0,0)"},{"offset":0.25,"color":"rgba(0,0,0,0)"},
              {"offset":0.25,"color":"#000"},{"offset":0.269,"color":"#000"},{"offset":0.269,"color":"rgba(0,0,0,0)"},{"offset":0.375,"color":"rgba(0,0,0,0)"},
              {"offset":0.375,"color":"#000"},{"offset":0.394,"color":"#000"},{"offset":0.394,"color":"rgba(0,0,0,0)"},{"offset":0.5,"color":"rgba(0,0,0,0)"},
              {"offset":0.5,"color":"#000"},{"offset":0.519,"color":"#000"},{"offset":0.519,"color":"rgba(0,0,0,0)"},{"offset":0.625,"color":"rgba(0,0,0,0)"},
              {"offset":0.625,"color":"#000"},{"offset":0.644,"color":"#000"},{"offset":0.644,"color":"rgba(0,0,0,0)"},{"offset":0.75,"color":"rgba(0,0,0,0)"},
              {"offset":0.75,"color":"#000"},{"offset":0.769,"color":"#000"},{"offset":0.769,"color":"rgba(0,0,0,0)"},{"offset":0.875,"color":"rgba(0,0,0,0)"},
              {"offset":0.875,"color":"#000"},{"offset":0.894,"color":"#000"},{"offset":0.894,"color":"rgba(0,0,0,0)"},{"offset":1,"color":"rgba(0,0,0,0)"}
            ]}
          }
        },
        {
          "transform": [{"filter": "datum.type === 'VEGETAUX'"}],
          "mark": {"type": "bar", "stroke": "black", "strokeWidth": 2, "fill": "#222222"}
        },
        {
          "mark": {"type": "text", "align": "left", "baseline": "middle", "dx": 48, "font": "DejaVu Sans", "fontSize": 28, "color": "black"},
          "encoding": {
            "y": {"datum": -18, "type": "quantitative", "title": "% COUPS DE BEC", "scale": {"domain": [0, 100], "nice": false}},
            "y2": null,
            "text": {"field": "type"}
          }
        }
      ]
    }
  ]
}
